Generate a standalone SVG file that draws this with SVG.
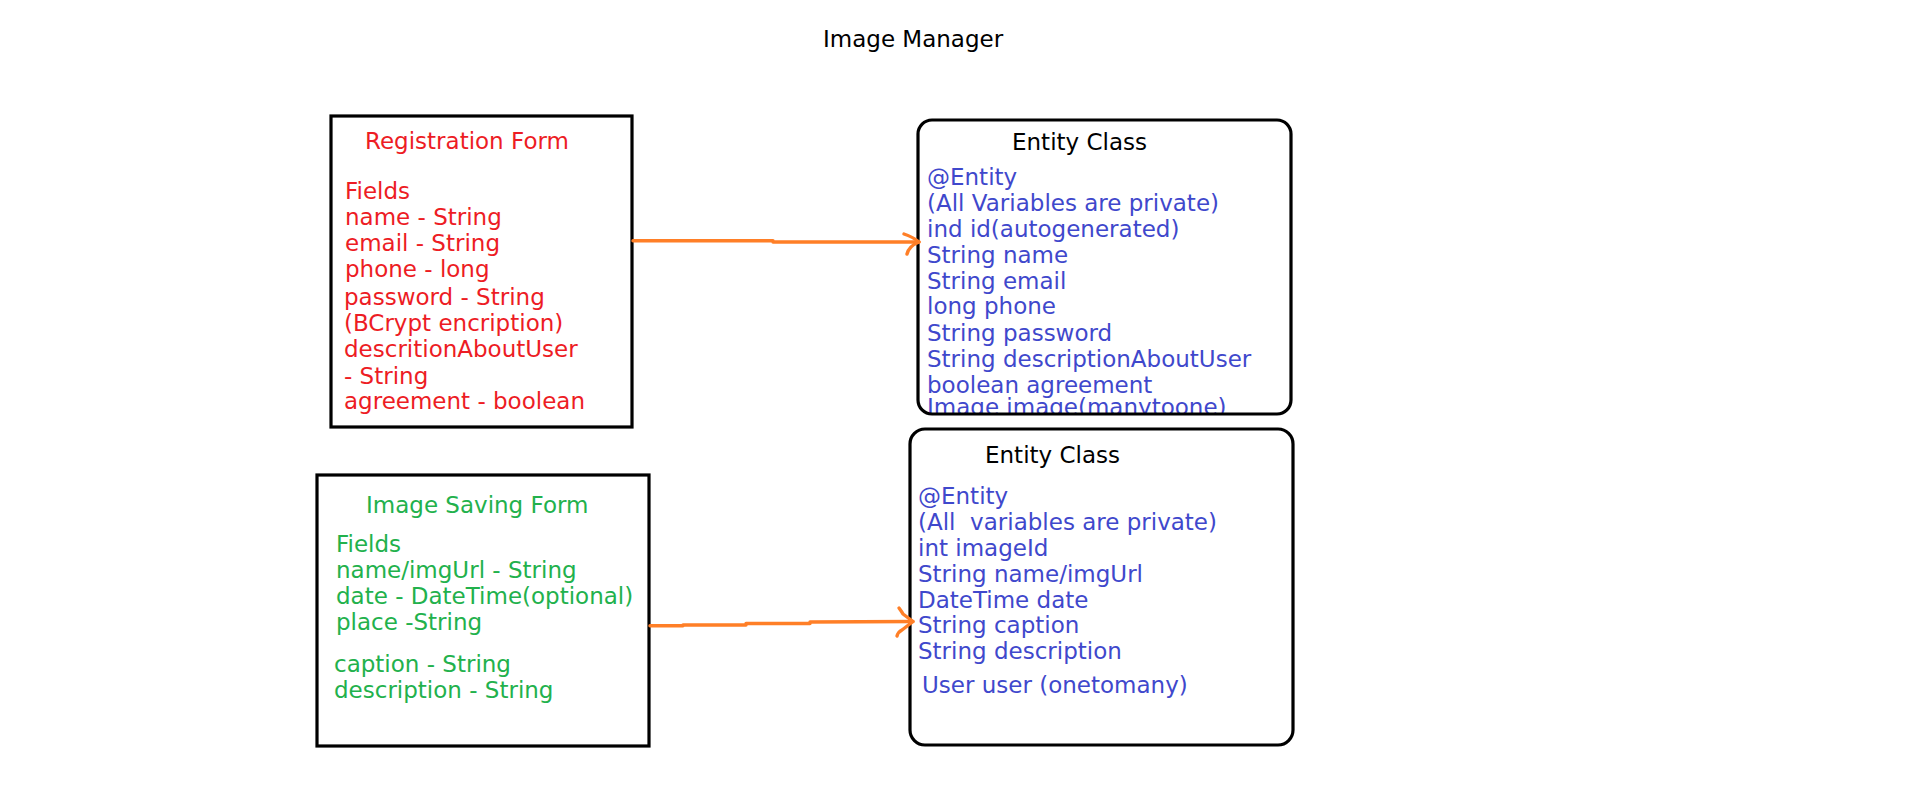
<svg xmlns="http://www.w3.org/2000/svg" width="1914" height="810" viewBox="0 0 1914 810">
<style>
text{font-family:"DejaVu Sans","Liberation Sans",sans-serif;font-size:23px}
.box{fill:none;stroke:#000;stroke-width:3.2}
.red{fill:#ed1c24}
.green{fill:#22b14c}
.blue{fill:#3f48cc}
.blk{fill:#000}
.conn{fill:none;stroke:#ff7f27;stroke-width:3.4;stroke-linecap:round;stroke-linejoin:round}
</style>
<defs>
<clipPath id="clipE1"><rect x="918" y="120" width="372" height="293"/></clipPath>
</defs>
<rect width="1914" height="810" fill="#fff"/>
<text class="blk" x="823" y="47">Image Manager</text>

<g id="registration-form">
<rect class="box" x="331" y="116" width="301" height="311"/>
<text class="red" x="365" y="149">Registration Form</text>
<text class="red" x="345" y="199">Fields</text>
<text class="red" x="345" y="225">name - String</text>
<text class="red" x="345" y="251">email - String</text>
<text class="red" x="345" y="277">phone - long</text>
<text class="red" x="344" y="305">password - String</text>
<text class="red" x="344" y="331">(BCrypt encription)</text>
<text class="red" x="344" y="357">descritionAboutUser</text>
<text class="red" x="344" y="384">- String</text>
<text class="red" x="344" y="409">agreement - boolean</text>
</g>

<g id="user-entity">
<g clip-path="url(#clipE1)">
<text class="blue" x="927" y="415">Image image(manytoone)</text>
</g>
<rect class="box" x="918" y="120" width="373" height="294" rx="14"/>
<text class="blk" x="1012" y="150">Entity Class</text>
<text class="blue" x="927" y="185">@Entity</text>
<text class="blue" x="927" y="211">(All Variables are private)</text>
<text class="blue" x="927" y="237">ind id(autogenerated)</text>
<text class="blue" x="927" y="263">String name</text>
<text class="blue" x="927" y="289">String email</text>
<text class="blue" x="927" y="314">long phone</text>
<text class="blue" x="927" y="341">String password</text>
<text class="blue" x="927" y="367">String descriptionAboutUser</text>
<text class="blue" x="927" y="393">boolean agreement</text>
</g>

<g id="image-saving-form">
<rect class="box" x="317" y="475" width="332" height="271"/>
<text class="green" x="366" y="513">Image Saving Form</text>
<text class="green" x="336" y="552">Fields</text>
<text class="green" x="336" y="578">name/imgUrl - String</text>
<text class="green" x="336" y="604">date - DateTime(optional)</text>
<text class="green" x="336" y="630">place -String</text>
<text class="green" x="334" y="672">caption - String</text>
<text class="green" x="334" y="698">description - String</text>
</g>

<g id="image-entity">
<rect class="box" x="910" y="429" width="383" height="316" rx="15"/>
<text class="blk" x="985" y="463">Entity Class</text>
<text class="blue" x="918" y="504">@Entity</text>
<text class="blue" x="918" y="530" xml:space="preserve" style="white-space:pre">(All  variables are private)</text>
<text class="blue" x="918" y="556">int imageId</text>
<text class="blue" x="918" y="582">String name/imgUrl</text>
<text class="blue" x="918" y="608">DateTime date</text>
<text class="blue" x="918" y="633">String caption</text>
<text class="blue" x="918" y="659">String description</text>
<text class="blue" x="922" y="693">User user (onetomany)</text>
</g>

<g id="connectors">
<path class="conn" d="M633 240.7 L773 240.7 L773 242 L919 242"/>
<path class="conn" d="M904 234 Q913 237 919 242 Q909 246 907 254"/>
<path class="conn" d="M650 625.7 L683 625.7 L683 625 L746 625 L746 623.5 L810 623.5 L810 622 L913 621.5"/>
<path class="conn" d="M899 608 Q902 612 903 614 L913 621.5 L902 630 Q898 632 897 636"/>
</g>
</svg>
